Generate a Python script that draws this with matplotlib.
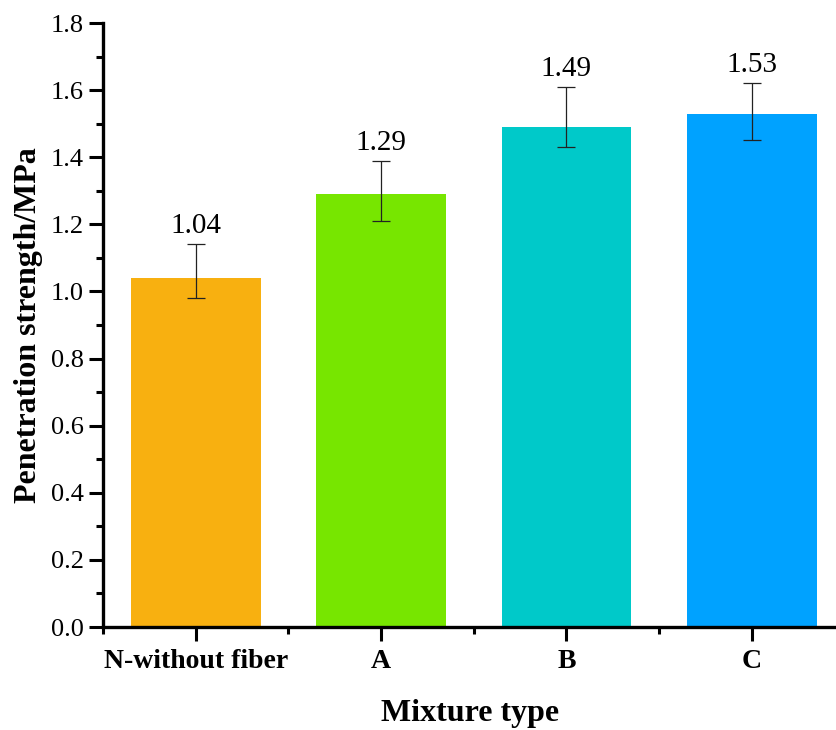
import matplotlib
matplotlib.use("Agg")
import matplotlib.pyplot as plt
from matplotlib.ticker import MultipleLocator, FixedLocator

categories = ["N-without fiber", "A", "B", "C"]
values = [1.04, 1.29, 1.49, 1.53]
err_upper = [0.10, 0.10, 0.12, 0.09]
err_lower = [0.06, 0.08, 0.06, 0.08]
colors = ["#F8B010", "#77E600", "#00C9C9", "#00A2FF"]

plt.rcParams['font.family'] = ['Liberation Serif', 'DejaVu Serif']

fig = plt.figure(figsize=(8.37, 7.30), dpi=100)
ax = fig.add_axes([103/837, 103/730, (837-103)/837, (627-23)/730])

x = list(range(len(categories)))
ax.bar(x, values, width=0.7, color=colors, zorder=2)
ax.errorbar(x, values, yerr=[err_lower, err_upper], fmt='none', ecolor='#222222',
            elinewidth=0.9, capsize=6.5, capthick=0.9, zorder=3)
for xi, v, eu in zip(x, values, err_upper):
    ax.text(xi, v + eu + 0.015, f"{v:.2f}", ha='center', va='bottom', fontsize=21)

ax.set_xlim(-0.5, 3.46)
ax.set_ylim(0, 1.8)
ax.set_xticks(x)
ax.set_xticklabels(categories, fontsize=20, fontweight='bold')
ax.xaxis.set_minor_locator(FixedLocator([-0.5, 0.5, 1.5, 2.5]))
ax.yaxis.set_major_locator(MultipleLocator(0.2))
ax.yaxis.set_minor_locator(MultipleLocator(0.1))
ax.yaxis.set_major_formatter(matplotlib.ticker.FormatStrFormatter('%.1f'))
for lab in ax.get_yticklabels():
    lab.set_fontsize(19)

ax.tick_params(which='major', length=10, width=2.2, direction='out', pad=6)
ax.tick_params(axis='y', which='major', pad=4)
ax.tick_params(which='minor', length=5, width=2.2, direction='out')
for s in ['top', 'right']:
    ax.spines[s].set_visible(False)
for s in ['left', 'bottom']:
    ax.spines[s].set_linewidth(2.4)

ax.set_xlabel("Mixture type", fontsize=23, fontweight='bold', labelpad=18)
ax.set_ylabel("Penetration strength/MPa", fontsize=23, fontweight='bold', labelpad=5)

fig.savefig("out.png", dpi=100)
